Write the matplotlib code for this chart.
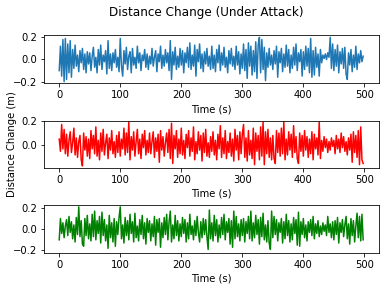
import numpy as np
import matplotlib
matplotlib.use("Agg")
import matplotlib.pyplot as plt

# --- data (in hundredths of a metre, one value every 2 s) ---
time_s = np.arange(0, 500, 2)

blue_cm = [
    -10, 12, -15, 18, -20, 19, -18, 14, -12, 17, -16, 9, -8, 13, -6, 4, -11, 8, -3, 10, -9, 5, -12, 7, -4,
    6, -10, 3, 11, -7, 2, -12, 9, -5, 13, -9, 4, -2, 8, -13, 17, -8, 5, -10, 6, -3, 9, -7, 2, -11,
    19, -6, -15, 8, -4, 11, -9, 3, 7, -12, 10, -5, 2, -8, 12, -3, 6, -10, 4, -1, 9, -7, 5, -9, 3,
    -4, 10, -6, 2, 8, -11, 5, -2, 12, -8, 4, -6, 9, -3, 6, -10, 17, -18, 7, -5, 11, -9, 3, -7, 10,
    -5, 8, -12, 6, -3, 11, -7, 15, -9, 4, -6, 13, -15, 9, -2, 14, -8, 5, -11, 7, -4, 10, -6, 3, -9,
    12, -8, 4, -11, 9, -3, 13, -10, 6, -5, 11, -7, 2, -12, 8, -4, 10, -6, 3, -9, 12, -5, 7, -13, 5,
    -8, 14, -10, 9, -17, 15, -6, 12, -14, 8, -11, 16, -17, 13, 20, -12, 18, -9, 11, -19, 6, -7, 10, -5, 4,
    -9, 8, -4, 12, -16, 7, -3, 10, -11, 5, -7, 13, -6, 9, -12, 4, -8, 11, -5, 14, -10, 6, -2, 9, -15,
    7, -9, 12, -6, 10, -12, 19, -16, 8, -14, 11, -7, 5, -15, 9, -3, 4, 1, 5, 0, 6, 2, 20, -8, 14,
    -10, 9, -6, 13, -12, 7, -4, 10, -8, 11, -13, -18, 6, -5, 9, -11, 4, -7, 12, -9, 5, -3, 8, -2, 3,
]

red_cm = [
    5, -5, 17, -3, 13, -7, 9, -9, 4, 11, -6, 2, 14, -8, 6, -10, 3, 8, -12, -17, 10, -4, 7, -9, 5,
    -11, 12, -3, 8, -7, 15, -9, 4, -12, 10, -5, 13, -8, 2, 9, -11, 6, -4, 12, -7, 3, -10, 8, -6, 11,
    -9, 5, -3, 14, -8, 10, -6, 19, -12, 7, -4, 11, -9, 3, 13, -7, 5, -11, 9, -2, 12, -8, 4, -6, 10,
    -7, 3, 11, -10, 6, -5, 9, -14, 12, -4, 7, -9, 2, 10, -6, 13, -11, 18, -15, 8, -3, 12, -10, 5, -7,
    14, -8, 4, -11, 9, -2, 12, -9, 6, -5, 15, -12, 3, -7, 11, -4, 8, -13, 10, -6, 13, -9, 2, -10, 7,
    -5, 11, -8, 4, -12, 9, -3, 16, -10, 6, -7, 12, -11, 3, -6, 10, -9, 5, -13, 13, -4, 8, -12, 11, -7,
    9, 17, -10, 6, -13, 12, -8, 4, -11, 14, -16, 10, -5, 8, -12, 15, -9, 19, -16, 11, -7, 13, -10, 6, -12,
    8, -11, -15, 12, -6, 10, -9, 14, -7, 19, -12, 5, -8, 11, -4, 9, -10, 16, -6, 7, -11, -15, 10, -5, 8,
    -9, 12, -4, 7, -10, 5, -7, 11, -12, 9, -3, 6, -8, 19, -11, 4, -5, 7, -2, 5, -6, 3, -4, 6, -1,
    4, -7, 8, -3, 5, -6, 10, -2, 7, -5, 3, -8, 6, -4, 9, -14, 11, -6, 8, -10, 12, -16, 15, -12, -15,
]

green_cm = [
    -10, 10, -4, 6, -8, 3, 9, -6, 12, -3, 7, -9, 4, -12, 11, -5, 21, -7, 8, -14, -16, 10, -6, 13, -9,
    5, -11, 14, -7, 17, -10, 8, -4, 12, -13, 16, -6, 9, -11, 4, -18, 13, -8, 6, -12, 10, -16, 7, -5, 11,
    21, -9, 4, -13, 11, -6, 8, -10, 14, -4, 7, -12, 15, -8, 3, -11, 9, -5, 13, -9, 6, -14, 10, -3, 8,
    -11, 5, -7, 12, -15, 9, -3, 10, -17, 6, -8, 11, -5, 14, -10, 7, 17, -12, 4, -9, 13, -6, 8, -11, 5,
    -7, 11, -4, 9, -12, 6, -9, 14, -5, 3, -10, 8, -6, 12, -3, -12, 7, -8, 10, -5, 9, -7, -19, 18, -9,
    6, -11, 13, -6, 9, -12, 4, -8, 11, -5, 14, -10, 7, -3, 10, -14, 8, -17, 17, -9, 12, -7, 5, -11, 9,
    -6, 10, -12, 7, -4, 12, -9, 17, -11, 6, -8, 13, -5, 9, -14, 11, -7, 15, -10, 4, -12, 8, -13, -19, 17,
    -8, 12, -5, 9, -11, 6, -3, 10, -13, 7, -9, 14, -6, 8, -12, 5, -10, 11, -4, 9, -15, 16, -16, 7, -5,
    10, -8, 4, -11, 7, -3, 9, -6, 12, -9, 5, -4, 8, -7, 3, -5, 6, -2, 4, -6, 12, -3, 5, -8, 7,
    -10, 8, -5, 11, -13, 6, -3, 9, -7, 4, 12, -9, 5, -14, 10, -6, 8, -12, 3, 15, -8, 12, -11, 14, -10,
]

series = [
    (np.array(blue_cm) / 100, "tab:blue", (-0.212, 0.221)),
    (np.array(red_cm) / 100, "red", (-0.187, 0.2025)),
    (np.array(green_cm) / 100, "green", (-0.219, 0.232)),
]

# axes boxes in pixels (left, top, right, bottom) measured on the 386x291 reference
W, H = 386, 291
boxes = [(44, 35, 379, 83), (44, 120.5, 379, 168), (44, 204.5, 379, 252.5)]

fig = plt.figure(figsize=(W / 72, H / 72), dpi=72)

axes = []
for (vals, color, ylim), (l, t, r, b) in zip(series, boxes):
    ax = fig.add_axes([l / W, 1 - b / H, (r - l) / W, (b - t) / H])
    ax.plot(time_s, vals, color=color)
    ax.set_xlim(-24.95, 523.95)
    ax.set_ylim(*ylim)
    ax.set_xticks([0, 100, 200, 300, 400, 500])
    ax.set_xlabel("Time (s)")
    axes.append(ax)

axes[1].set_ylabel("Distance Change (m)")
fig.suptitle("Distance Change (Under Attack)", x=206.5 / W, y=1 - 6 / H, va="top", fontsize=12)

fig.savefig("out.png", dpi=72)
